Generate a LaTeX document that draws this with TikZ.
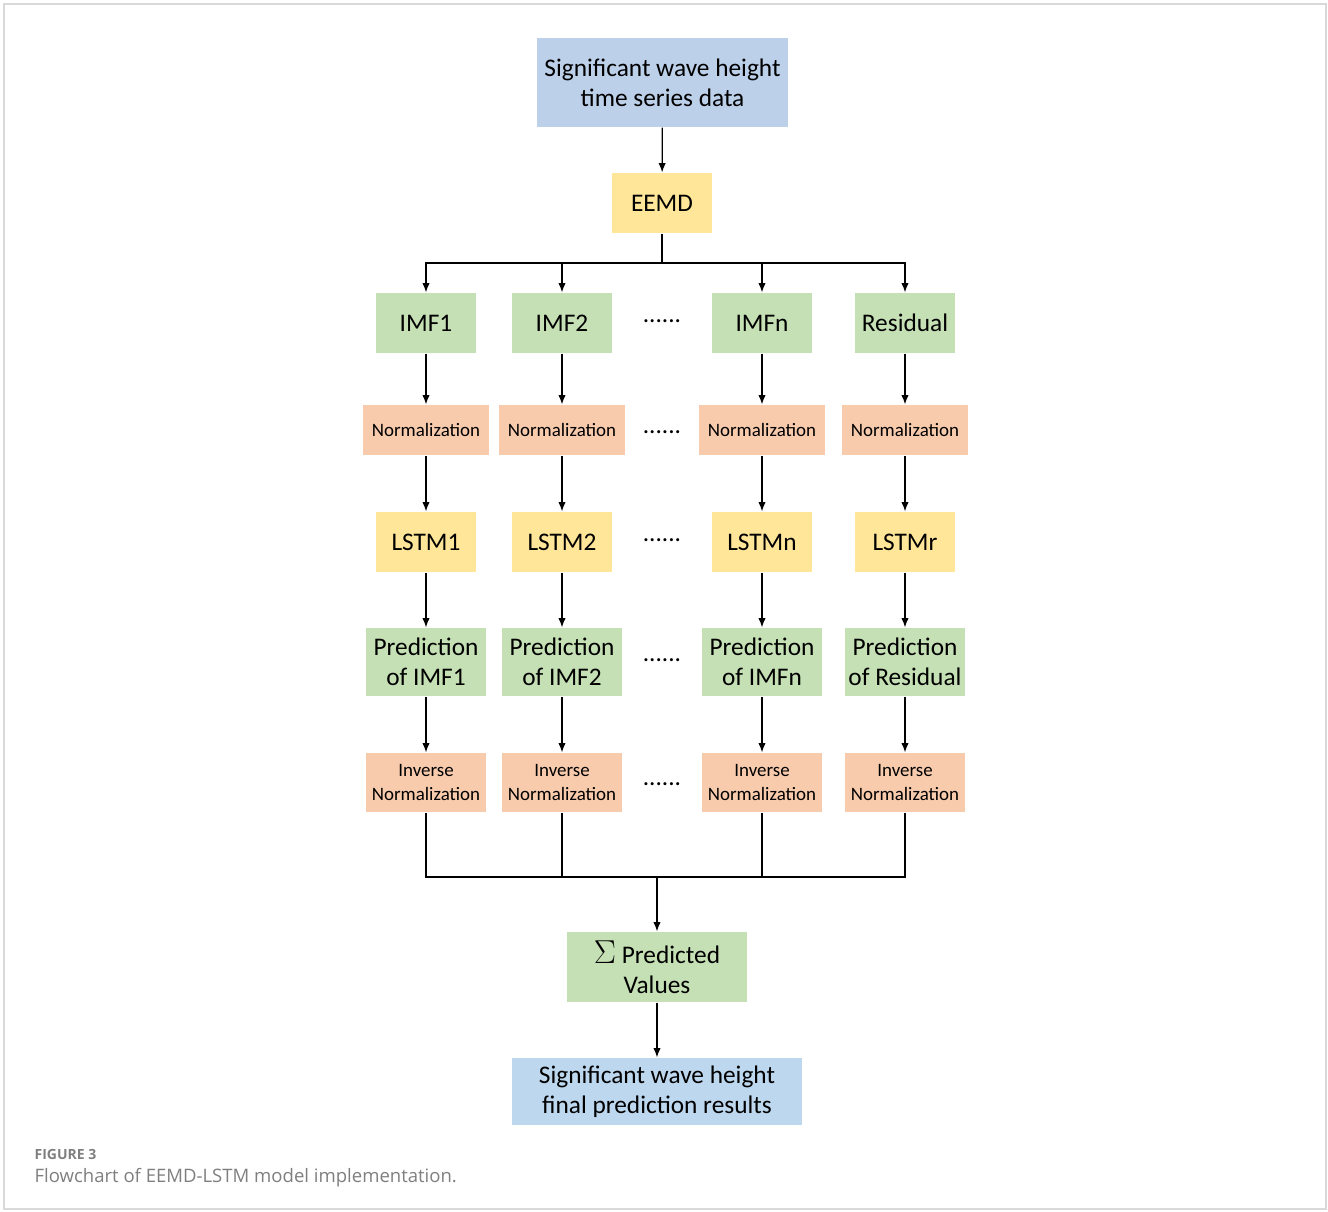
\documentclass[tikz,border=0pt]{standalone}
\usepackage{fontspec}
\setmainfont{Carlito}
\newfontfamily\capfont{Open Sans}
\usetikzlibrary{arrows.meta, positioning}

\definecolor{bluetop}{HTML}{BDD0EA}
\definecolor{bluebot}{HTML}{BDD7EE}
\definecolor{yellowbox}{HTML}{FFE699}
\definecolor{greenbox}{HTML}{C5E0B4}
\definecolor{orangebox}{HTML}{F8CBAD}
\definecolor{framegray}{HTML}{D9D9D9}
\definecolor{capgray}{HTML}{7F7F7F}

\tikzset{
  box/.style={inner sep=0pt, align=center, font=\fontsize{19}{22.5}\selectfont},
  smallbox/.style={inner sep=0pt, align=center, font=\fontsize{14.2}{18}\selectfont},
  datab/.style={box, fill=bluetop, minimum width=188.25pt, minimum height=66.75pt},
  resb/.style={box, fill=bluebot, minimum width=217.5pt, minimum height=50.25pt},
  yelb/.style={box, fill=yellowbox, minimum width=75pt, minimum height=45pt},
  imfb/.style={box, fill=greenbox, minimum width=75pt, minimum height=45pt},
  normb/.style={smallbox, fill=orangebox, minimum width=94.5pt, minimum height=37.5pt},
  predb/.style={box, fill=greenbox, minimum width=90pt, minimum height=51pt},
  invb/.style={smallbox, fill=orangebox, minimum width=90pt, minimum height=44.25pt},
  dots/.style={box, inner sep=0pt}
}

\begin{document}
\begin{tikzpicture}[x=0.75pt, y=-0.75pt, >={Latex[length=7pt,width=5.5pt]}, line width=0.9pt]
  \useasboundingbox (0,0) rectangle (1328,1211);
  \draw[framegray, line width=0.8pt] (4,4) rectangle (1326,1209);

  \node[datab] (src) at (662.5,82.5) {Significant wave height\\time series data};
  \node[yelb] (eemd) at (662,203) {EEMD};

  \node[imfb] (imf1) at (426,323) {IMF1};
  \node[imfb] (imf2) at (562,323) {IMF2};
  \node[dots] (d1) at (662,321) {......};
  \node[imfb] (imfn) at (762,323) {IMFn};
  \node[imfb] (res) at (905,323) {Residual};

  \node[normb] (norm1) at (426,430) {Normalization};
  \node[normb] (norm2) at (562,430) {Normalization};
  \node[dots] (d2) at (662,432) {......};
  \node[normb] (normn) at (762,430) {Normalization};
  \node[normb] (normr) at (905,430) {Normalization};

  \node[yelb] (lstm1) at (426,542) {LSTM1};
  \node[yelb] (lstm2) at (562,542) {LSTM2};
  \node[dots] (d3) at (662,540) {......};
  \node[yelb] (lstmn) at (762,542) {LSTMn};
  \node[yelb] (lstmr) at (905,542) {LSTMr};

  \node[predb] (pred1) at (426,662) {Prediction\\of IMF1};
  \node[predb] (pred2) at (562,662) {Prediction\\of IMF2};
  \node[dots] (d4) at (662,660) {......};
  \node[predb] (predn) at (762,662) {Prediction\\of IMFn};
  \node[predb] (predr) at (905,662) {Prediction\\of Residual};

  \node[invb] (inv1) at (426,782.5) {Inverse\\Normalization};
  \node[invb] (inv2) at (562,782.5) {Inverse\\Normalization};
  \node[dots] (d5) at (662,784) {......};
  \node[invb] (invn) at (762,782.5) {Inverse\\Normalization};
  \node[invb] (invr) at (905,782.5) {Inverse\\Normalization};

  \node[imfb, minimum width=135pt, minimum height=52.5pt] (sum) at (657,967) {{\fontsize{23}{23}\selectfont$\Sigma$} Predicted\\Values};
  \node[resb] (out) at (657,1091.5) {Significant wave height\\final prediction results};

  \coordinate (split) at (662,263);
  \coordinate (merge) at (657,877);

  \draw[->] (src) -- (eemd);
  \draw (eemd) -- (split);
  \draw[->] (split) -| (imf1);
  \draw[->] (split) -| (imf2);
  \draw[->] (split) -| (imfn);
  \draw[->] (split) -| (res);

  \draw[->] (imf1) -- (norm1);
  \draw[->] (imf2) -- (norm2);
  \draw[->] (imfn) -- (normn);
  \draw[->] (res) -- (normr);
  \draw[->] (norm1) -- (lstm1);
  \draw[->] (norm2) -- (lstm2);
  \draw[->] (normn) -- (lstmn);
  \draw[->] (normr) -- (lstmr);
  \draw[->] (lstm1) -- (pred1);
  \draw[->] (lstm2) -- (pred2);
  \draw[->] (lstmn) -- (predn);
  \draw[->] (lstmr) -- (predr);
  \draw[->] (pred1) -- (inv1);
  \draw[->] (pred2) -- (inv2);
  \draw[->] (predn) -- (invn);
  \draw[->] (predr) -- (invr);

  \draw (inv1) |- (merge);
  \draw (inv2) |- (merge);
  \draw (invn) |- (merge);
  \draw (invr) |- (merge);
  \draw[->] (merge) -- (sum);
  \draw[->] (sum) -- (out);

  % caption
  \node[anchor=base west, inner sep=0pt, text=capgray, font=\capfont\bfseries\fontsize{10.5}{12}\selectfont] (fig) at (34,1159) {FIGURE 3};
  \node[anchor=base west, inner sep=0pt, text=capgray, font=\capfont\fontsize{13.9}{16}\selectfont] (cap) at (34,1182) {Flowchart of EEMD-LSTM model implementation.};
\end{tikzpicture}
\end{document}
